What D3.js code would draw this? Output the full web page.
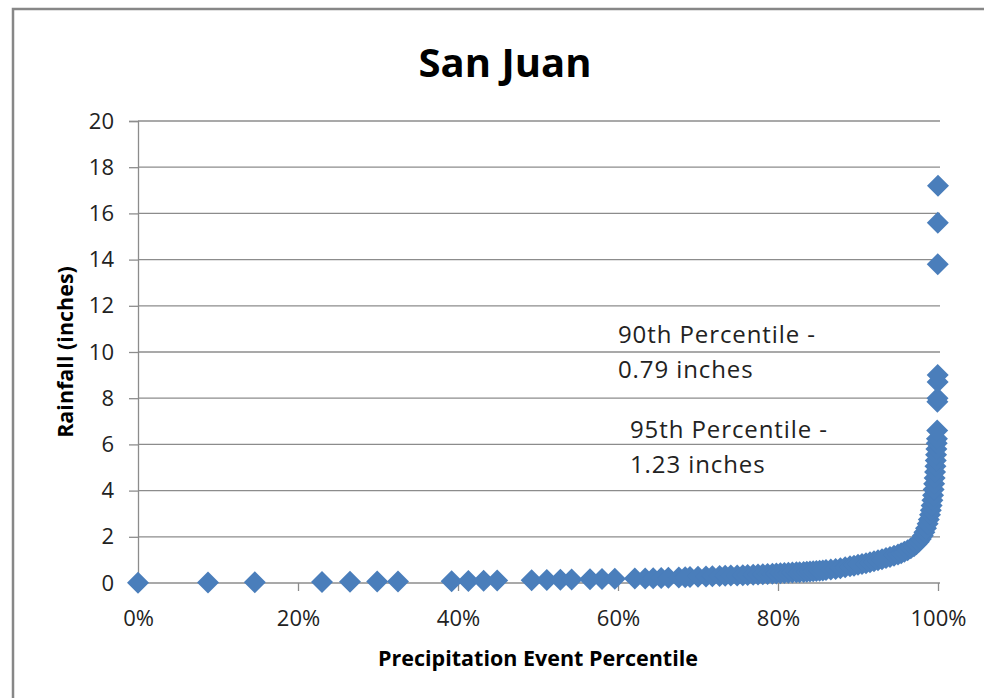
<!DOCTYPE html>
<html>
<head>
<meta charset="utf-8">
<script src="https://cdn.jsdelivr.net/npm/d3@7"></script>
<style>
  html, body { margin: 0; padding: 0; background: #fff; }
  svg { display: block; font-family: "Open Sans", "Liberation Sans", sans-serif; }
</style>
</head>
<body>
<svg id="chart" width="984" height="698"></svg>
<script>
// Precipitation events: percentile rank of each distinct daily total (inches)
const percentile = [
  0, 8.75, 14.6, 23.0, 26.5, 29.9, 32.5, 39.2, 41.3, 43.2, 44.9,
  49.2, 51.1, 52.8, 54.2, 56.5, 58.0, 59.6, 62.1, 63.4, 64.4,
  65.4, 66.3, 67.6, 68.4, 69.0, 70.0, 71.0, 71.8, 72.7, 73.4,
  74.1, 74.9, 75.6, 76.2, 76.9, 77.5, 78.1, 78.7, 79.3, 79.8,
  80.3, 80.8, 81.3, 81.8, 82.3, 82.7, 83.2, 83.6, 84.0, 84.4,
  84.8, 85.2, 85.6, 86.0, 86.6, 87.2, 87.8, 88.4, 89.0, 89.5,
  90.0, 90.5, 91.0, 91.5, 92.0, 92.5, 93.0, 93.5, 94.0, 94.5,
  95.0, 95.4, 95.8, 96.2, 96.6, 97.0, 97.3, 97.6, 97.85, 98.1,
  98.3, 98.5, 98.7, 98.85, 99.0, 99.1, 99.2, 99.3, 99.38, 99.45,
  99.52, 99.58, 99.63, 99.68, 99.72, 99.76, 99.80, 99.84, 99.87, 99.90,
  99.92, 99.94, 99.95, 99.96, 99.97, 99.98, 100
];
const rainfall = [
  0.01, 0.02, 0.03, 0.04, 0.05, 0.06, 0.07, 0.08, 0.09, 0.10, 0.11,
  0.12, 0.13, 0.14, 0.15, 0.16, 0.17, 0.18, 0.19, 0.20, 0.21,
  0.22, 0.23, 0.24, 0.25, 0.26, 0.27, 0.28, 0.29, 0.30, 0.31,
  0.32, 0.33, 0.34, 0.35, 0.36, 0.37, 0.38, 0.39, 0.40, 0.41,
  0.42, 0.43, 0.44, 0.45, 0.46, 0.47, 0.48, 0.49, 0.50, 0.51,
  0.52, 0.53, 0.54, 0.56, 0.58, 0.61, 0.64, 0.68, 0.72, 0.75,
  0.79, 0.82, 0.86, 0.90, 0.94, 0.98, 1.03, 1.08, 1.13, 1.18,
  1.23, 1.29, 1.35, 1.42, 1.50, 1.59, 1.68, 1.79, 1.91, 2.05,
  2.20, 2.37, 2.56, 2.75, 2.95, 3.15, 3.35, 3.58, 3.80, 4.05,
  4.30, 4.55, 4.80, 5.05, 5.30, 5.55, 5.80, 6.05, 6.25, 6.60,
  7.85, 8.00, 8.70, 9.00, 13.80, 15.60, 17.20
];

const yTicks = [0, 2, 4, 6, 8, 10, 12, 14, 16, 18, 20];
const xTicks = [0, 20, 40, 60, 80, 100];

const annotations = [
  { lines: ["90th Percentile -", "0.79 inches"], p: 60.0, v: 10.4 },
  { lines: ["95th Percentile -", "1.23 inches"], p: 61.5, v: 6.28 }
];

const svg = d3.select("#chart");
const W = 984, H = 698;

// Outer chart frame
svg.append("rect")
  .attr("x", 13).attr("y", 9)
  .attr("width", W + 20).attr("height", H + 20)
  .attr("fill", "#fff")
  .attr("stroke", "#878787")
  .attr("stroke-width", 2.5);

const x = d3.scaleLinear().domain([0, 100]).range([138, 938]);
const y = d3.scaleLinear().domain([0, 20]).range([583, 121]);

// Horizontal gridlines
svg.append("g")
  .selectAll("line")
  .data(yTicks.filter(d => d > 0))
  .join("line")
  .attr("x1", 138).attr("x2", 940)
  .attr("y1", d => y(d)).attr("y2", d => y(d))
  .attr("stroke", "#8c8c8c")
  .attr("stroke-width", 1.3);

// Y axis
const yAxis = svg.append("g")
  .attr("transform", "translate(138,0)")
  .call(d3.axisLeft(y).tickValues(yTicks).tickSize(9).tickPadding(15).tickFormat(d3.format("d")));
yAxis.select(".domain").attr("stroke", "#8c8c8c").attr("stroke-width", 1.3);
yAxis.selectAll(".tick line").attr("stroke", "#8c8c8c").attr("stroke-width", 1.3);
yAxis.selectAll("text")
  .attr("font-size", 22)
  .attr("fill", "#222")
  .attr("font-family", "Open Sans, sans-serif");

// X axis
const xAxis = svg.append("g")
  .attr("transform", "translate(0,583)")
  .call(d3.axisBottom(x).tickValues(xTicks).tickSize(8).tickPadding(19).tickFormat(d => d + "%"));
xAxis.select(".domain").attr("d", "M138,0H940").attr("stroke", "#8c8c8c").attr("stroke-width", 1.3);
xAxis.selectAll(".tick line").attr("stroke", "#8c8c8c").attr("stroke-width", 1.3);
xAxis.selectAll("text")
  .attr("font-size", 22)
  .attr("fill", "#222")
  .attr("font-family", "Open Sans, sans-serif");

// Diamond markers
const pts = percentile.map((p, i) => ({ p, v: rainfall[i] }));
const r = 11;
svg.append("g")
  .selectAll("path")
  .data(pts)
  .join("path")
  .attr("d", `M0,${-r}L${r},0L0,${r}L${-r},0Z`)
  .attr("transform", d => `translate(${x(d.p)},${y(d.v)})`)
  .attr("fill", "#4a7ebb");

// Percentile annotations
annotations.forEach(a => {
  const t = svg.append("text")
    .attr("x", x(a.p)).attr("y", y(a.v))
    .attr("font-size", 24)
    .attr("letter-spacing", 0.9)
    .attr("fill", "#222");
  a.lines.forEach((s, i) => {
    t.append("tspan").attr("x", x(a.p)).attr("dy", i === 0 ? 0 : 35).text(s);
  });
});

// Title
svg.append("text")
  .attr("x", 505).attr("y", 77)
  .attr("text-anchor", "middle")
  .attr("font-size", 40)
  .attr("font-weight", "bold")
  .attr("fill", "#000")
  .text("San Juan");

// Axis titles
svg.append("text")
  .attr("x", 538).attr("y", 666)
  .attr("text-anchor", "middle")
  .attr("font-size", 21.5)
  .attr("font-weight", "bold")
  .attr("fill", "#000")
  .text("Precipitation Event Percentile");

svg.append("text")
  .attr("transform", "translate(73,352) rotate(-90)")
  .attr("text-anchor", "middle")
  .attr("font-size", 21.5)
  .attr("font-weight", "bold")
  .attr("fill", "#000")
  .text("Rainfall (inches)");
</script>
</body>
</html>
